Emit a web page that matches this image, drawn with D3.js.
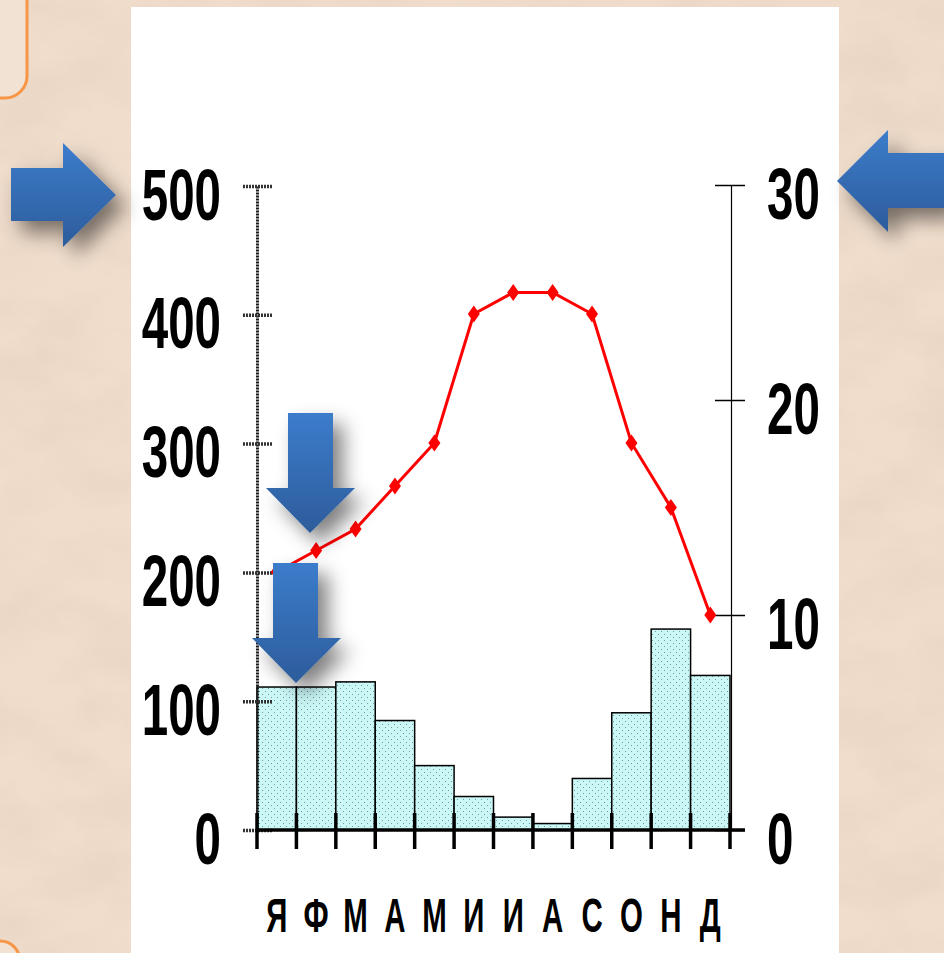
<!DOCTYPE html>
<html>
<head>
<meta charset="utf-8">
<script src="https://cdn.jsdelivr.net/npm/d3@7"></script>
<style>
	html, body { margin: 0; padding: 0; background: #efdccb; }
	svg { display: block; }
</style>
</head>
<body>
<div id="charts"></div>
<script>
// climate chart data
var months = ["Я", "Ф", "М", "А", "М", "И", "И", "А", "С", "О", "Н", "Д"];
var precip = [111, 111, 115, 85, 50, 26, 10, 5, 40, 91, 156, 120];
var temp = [12, 13, 14, 16, 18, 24, 25, 25, 24, 18, 15, 10];
var precipTicks = [0, 100, 200, 300, 400, 500];
var tempTicks = [0, 10, 20, 30];

var width = 944, height = 953;

var svg = d3.select("#charts")
	.append("svg")
	.attr("width", width)
	.attr("height", height);

var defs = svg.append("defs");

// parchment texture
var tex = defs.append("filter").attr("id", "paper")
	.attr("x", 0).attr("y", 0).attr("width", "100%").attr("height", "100%");
tex.append("feTurbulence").attr("type", "fractalNoise")
	.attr("baseFrequency", "0.012 0.02").attr("numOctaves", 4).attr("seed", 7);
tex.append("feColorMatrix").attr("type", "matrix")
	.attr("values", "0 0 0 0 0.55  0 0 0 0 0.42  0 0 0 0 0.33  0.9 0 0 0 -0.3");

// arrow shadow
var sh = defs.append("filter").attr("id", "shadow")
	.attr("x", "-60%").attr("y", "-60%").attr("width", "220%").attr("height", "220%");
sh.append("feGaussianBlur").attr("in", "SourceAlpha").attr("stdDeviation", 10).attr("result", "b");
sh.append("feOffset").attr("in", "b").attr("dx", 10).attr("dy", 11).attr("result", "o");
sh.append("feComponentTransfer").attr("in", "o").attr("result", "s")
	.append("feFuncA").attr("type", "linear").attr("slope", 0.5);
var m = sh.append("feMerge");
m.append("feMergeNode").attr("in", "s");
m.append("feMergeNode").attr("in", "SourceGraphic");

var grad = defs.append("linearGradient").attr("id", "blue")
	.attr("x1", 0).attr("y1", 0).attr("x2", 0).attr("y2", 1);
grad.append("stop").attr("offset", "0%").attr("stop-color", "#3c7ccb");
grad.append("stop").attr("offset", "100%").attr("stop-color", "#2d5c9b");

// dotted fill for the bars
var pat = defs.append("pattern").attr("id", "dots")
	.attr("patternUnits", "userSpaceOnUse").attr("width", 6).attr("height", 6);
pat.append("rect").attr("width", 6).attr("height", 6).attr("fill", "#cbf7f7");
pat.append("rect").attr("x", 1).attr("y", 1).attr("width", 1).attr("height", 1).attr("fill", "#6f9c9c");
pat.append("rect").attr("x", 4).attr("y", 4).attr("width", 1).attr("height", 1).attr("fill", "#6f9c9c");

// background
svg.append("rect").attr("width", width).attr("height", height).attr("fill", "#f0ddcc");
svg.append("rect").attr("width", width).attr("height", height)
	.attr("filter", "url(#paper)").attr("opacity", 0.3);

// orange boxes at the left edge
svg.append("rect").attr("x", -30).attr("y", -30).attr("width", 57).attr("height", 128)
	.attr("rx", 22).attr("fill", "#f2e2d3").attr("stroke", "#f79646").attr("stroke-width", 3);
svg.append("rect").attr("x", -30).attr("y", 941).attr("width", 50).attr("height", 60)
	.attr("rx", 20).attr("fill", "#f2e2d3").attr("stroke", "#f79646").attr("stroke-width", 3);

// white panel
svg.append("rect").attr("x", 131).attr("y", 7).attr("width", 708).attr("height", 950).attr("fill", "#fff");

// scales
var x = d3.scaleBand().domain(d3.range(months.length)).range([257, 730]).padding(0);
var yP = d3.scaleLinear().domain([0, 500]).range([830, 186]);
var yT = d3.scaleLinear().domain([0, 30]).range([830, 185]);

var numFont = "'Liberation Sans', Arial, sans-serif";
var sx = 0.66;

// bars
svg.append("g").selectAll("rect")
	.data(precip)
	.enter()
	.append("rect")
	.attr("x", function (d, i) { return x(i); })
	.attr("y", function (d) { return yP(d); })
	.attr("width", x.bandwidth())
	.attr("height", function (d) { return yP(0) - yP(d); })
	.attr("fill", "url(#dots)")
	.attr("stroke", "#000")
	.attr("stroke-width", 1.5);

// left axis (precipitation)
var gl = svg.append("g").attr("transform", "translate(257,0)")
	.call(d3.axisLeft(yP).tickValues(precipTicks).tickSize(15).tickSizeOuter(0));
gl.select(".domain").attr("stroke", "#1a1a1a").attr("stroke-width", 3).attr("stroke-dasharray", "2,1");
gl.selectAll(".tick line").attr("x1", 15).attr("x2", -15)
	.attr("stroke", "#333").attr("stroke-width", 3.5).attr("stroke-dasharray", "2,1");
gl.selectAll(".tick text")
	.attr("x", -36 / sx).attr("y", 33).attr("dy", null)
	.attr("transform", "scale(" + sx + ",1)")
	.attr("text-anchor", "end")
	.attr("fill", "#000")
	.style("font-family", numFont).style("font-size", "72px").style("font-weight", "bold");

// right axis (temperature)
var gr = svg.append("g").attr("transform", "translate(731,0)")
	.call(d3.axisRight(yT).tickValues(tempTicks).tickSize(14).tickSizeOuter(0));
gr.select(".domain").attr("stroke", "#000").attr("stroke-width", 1.2);
gr.selectAll(".tick line").attr("x1", -16).attr("x2", 14).attr("stroke", "#000").attr("stroke-width", 1.5);
gr.selectAll(".tick text")
	.attr("x", 36 / sx).attr("y", 33).attr("dy", null)
	.attr("transform", "scale(" + sx + ",1)")
	.attr("text-anchor", "start")
	.attr("fill", "#000")
	.style("font-family", numFont).style("font-size", "72px").style("font-weight", "bold");

// bottom axis
svg.append("line").attr("x1", 257).attr("x2", 745).attr("y1", yP(0)).attr("y2", yP(0))
	.attr("stroke", "#000").attr("stroke-width", 3.5);
svg.append("g").selectAll("line")
	.data(d3.range(months.length + 1))
	.enter()
	.append("line")
	.attr("x1", function (d) { return x.range()[0] + d * x.step(); })
	.attr("x2", function (d) { return x.range()[0] + d * x.step(); })
	.attr("y1", 813).attr("y2", 849)
	.attr("stroke", "#000").attr("stroke-width", 3.5);

svg.append("g").selectAll("text")
	.data(months)
	.enter()
	.append("text")
	.attr("transform", function (d, i) {
		return "translate(" + (x(i) + x.bandwidth() / 2) + ",932) scale(0.6,1)";
	})
	.attr("text-anchor", "middle")
	.style("font-family", numFont).style("font-size", "49px").style("font-weight", "bold")
	.text(function (d) { return d; });

// temperature line
var line = d3.line()
	.x(function (d, i) { return x(i) + x.bandwidth() / 2; })
	.y(function (d) { return yT(d); });
svg.append("path").datum(temp).attr("d", line)
	.attr("fill", "none").attr("stroke", "#ff0000").attr("stroke-width", 3);
svg.append("g").selectAll("path")
	.data(temp)
	.enter()
	.append("path")
	.attr("transform", function (d, i) {
		return "translate(" + (x(i) + x.bandwidth() / 2) + "," + yT(d) + ")";
	})
	.attr("d", "M0,-8.5L6,0L0,8.5L-6,0Z")
	.attr("fill", "#ff0000");

// blue arrows
var arrows = [
	"M11,168L63,168L63,143L116,195L63,247L63,221L11,221Z",
	"M950,153L888,153L888,130L837,181L888,232L888,208L950,208Z",
	"M288,413L333,413L333,488L355,488L310,533L266,488L288,488Z",
	"M273,563L318,563L318,638L341,638L296,683L252,638L273,638Z"
];
svg.append("g").selectAll("path")
	.data(arrows)
	.enter()
	.append("path")
	.attr("d", function (d) { return d; })
	.attr("fill", "url(#blue)")
	.attr("filter", "url(#shadow)");
</script>
</body>
</html>
